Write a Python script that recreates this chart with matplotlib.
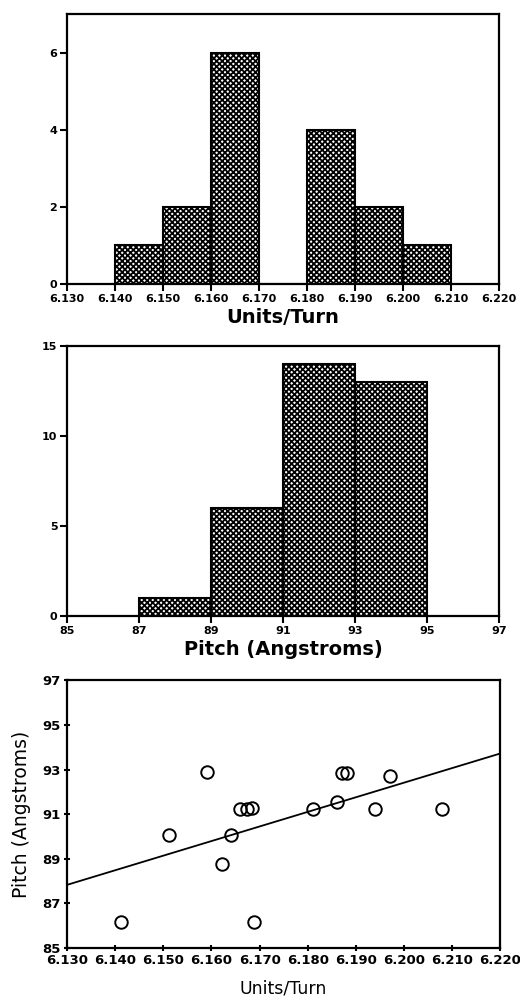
import matplotlib
matplotlib.use('Agg')
import matplotlib.pyplot as plt

# histogram of units per turn
units_edges = [6.140, 6.150, 6.160, 6.170, 6.180, 6.190, 6.200, 6.210]
units_counts = [1, 2, 6, 0, 4, 2, 1]

# histogram of pitch
pitch_edges = [87, 89, 91, 93, 95]
pitch_counts = [1, 6, 14, 13]

# scatter: units/turn vs pitch
scatter_units = [6.1411, 6.1511, 6.1591, 6.1621, 6.1641, 6.1659, 6.1673, 6.1684,
                 6.1689, 6.1811, 6.1861, 6.1871, 6.1882, 6.1940, 6.1970, 6.2080]
scatter_pitch = [86.16, 90.07, 92.87, 88.76, 90.07, 91.23, 91.23, 91.26,
                 86.15, 91.23, 91.53, 92.86, 92.86, 91.23, 92.72, 91.23]

# fitted line end points
fit_units = [6.130, 6.220]
fit_pitch = [87.83, 93.72]

units_ticks = [6.130, 6.140, 6.150, 6.160, 6.170, 6.180, 6.190, 6.200, 6.210, 6.220]
pitch_ticks = [85, 87, 89, 91, 93, 95, 97]

plt.rcParams['font.family'] = 'DejaVu Sans'
plt.rcParams['hatch.linewidth'] = 1.3
plt.rcParams['hatch.color'] = 'black'

fig = plt.figure(figsize=(5.2, 10.06), dpi=100)


def style_axes(ax, tick_size, direction):
    for s in ax.spines.values():
        s.set_linewidth(1.6)
    ax.tick_params(axis='both', direction=direction, length=5, width=1.5,
                   labelsize=tick_size, pad=2)
    for lbl in ax.get_xticklabels() + ax.get_yticklabels():
        lbl.set_fontweight('bold')


# Units/Turn histogram
ax1 = fig.add_axes([0.129, 0.7177, 0.831, 0.268])
widths = [units_edges[i + 1] - units_edges[i] for i in range(len(units_counts))]
ax1.bar(units_edges[:-1], units_counts, width=widths, align='edge',
        color='white', edgecolor='black', linewidth=1.5, hatch='xxxxxx')
ax1.set_xlim(6.130, 6.220)
ax1.set_ylim(0, 7)
ax1.set_xticks(units_ticks)
ax1.set_xticklabels([f'{t:.3f}' for t in units_ticks])
ax1.set_yticks([0, 2, 4, 6])
style_axes(ax1, 8, 'out')
ax1.set_xlabel('Units/Turn', fontsize=14, fontweight='bold', labelpad=3)

# Pitch histogram
ax2 = fig.add_axes([0.129, 0.3877, 0.831, 0.268])
widths = [pitch_edges[i + 1] - pitch_edges[i] for i in range(len(pitch_counts))]
ax2.bar(pitch_edges[:-1], pitch_counts, width=widths, align='edge',
        color='white', edgecolor='black', linewidth=1.5, hatch='xxxxxx')
ax2.set_xlim(85, 97)
ax2.set_ylim(0, 15)
ax2.set_xticks(pitch_ticks)
ax2.set_yticks([0, 5, 10, 15])
style_axes(ax2, 8, 'out')
ax2.set_xlabel('Pitch (Angstroms)', fontsize=14, fontweight='bold', labelpad=3)

# Scatter with fit
ax3 = fig.add_axes([0.129, 0.0577, 0.833, 0.266])
ax3.plot(scatter_units, scatter_pitch, 'o', markersize=9, markerfacecolor='none',
         markeredgecolor='black', markeredgewidth=1.4, linestyle='none')
ax3.plot(fit_units, fit_pitch, color='black', linewidth=1.3)
ax3.set_xlim(6.130, 6.220)
ax3.set_ylim(85, 97)
ax3.set_xticks(units_ticks)
ax3.set_xticklabels([f'{t:.3f}' for t in units_ticks])
ax3.set_yticks(pitch_ticks)
style_axes(ax3, 9.5, 'inout')
ax3.set_xlabel('Units/Turn', fontsize=12.5, labelpad=9)
ax3.set_ylabel('Pitch (Angstroms)', fontsize=13.5, labelpad=8)

fig.savefig('out.png', dpi=100)
plt.close(fig)
